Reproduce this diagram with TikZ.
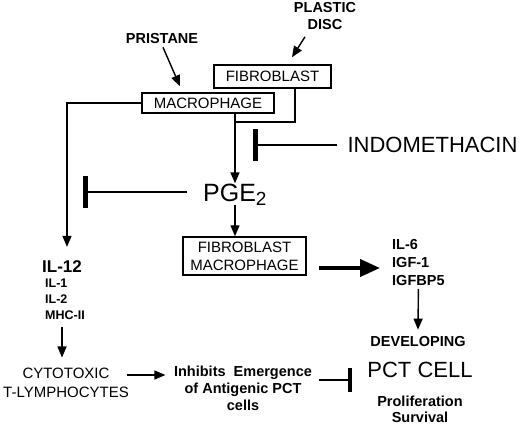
\documentclass[tikz,border=0pt]{standalone}
\usepackage{fontspec}
\setmainfont{Liberation Sans}
\usetikzlibrary{arrows.meta, positioning}

\begin{document}
\begin{tikzpicture}[
    x=1pt, y=-1pt,
    cellbox/.style={rectangle, draw, line width=1.5pt, inner sep=0pt, align=center, font=\fontsize{15}{18}\selectfont},
    plainlabel/.style={inner sep=0pt, align=center, font=\fontsize{15}{19}\selectfont},
    boldlabel/.style={inner sep=0pt, align=center, font=\fontsize{14.5}{17}\selectfont\bfseries},
    smalllabel/.style={inner sep=0pt, align=left, font=\fontsize{12.5}{16}\selectfont\bfseries},
    biglabel/.style={inner sep=0pt, font=\fontsize{22}{26}\selectfont},
    line/.style={line width=1.4pt},
    arrow/.style={-{Triangle[length=11pt, width=9pt]}, line width=1.4pt},
    bigarrow/.style={-{Triangle[length=20pt, width=17pt]}, line width=4pt},
    inhibit/.style={-{Bar[width=32pt, line width=5pt]}, line width=1.4pt},
]
\useasboundingbox (0,0) rectangle (520,426);

% ============ Top: stimuli and cells ============
\node[boldlabel] (pristane) at (162,39) {PRISTANE};
\node[boldlabel] (disc) at (325,16) {PLASTIC\\DISC};
\node[cellbox, minimum width=117pt, minimum height=23pt] (fibro) at (272.5,76.5) {FIBROBLAST};
\node[cellbox, minimum width=132pt, minimum height=20pt] (macro) at (208,103) {MACROPHAGE};

\draw[arrow] ([xshift=1pt, yshift=-3pt]pristane.south) -- ([shift={(-28pt,6pt)}]macro.north);
\draw[arrow] ([shift={(-20pt,-7pt)}]disc.south) -- ([shift={(19.5pt,7pt)}]fibro.north);

% ============ PGE2 and inhibitors ============
\node[biglabel] (indo) at (432.5,145) {INDOMETHACIN};
\node[inner sep=0pt, anchor=base west, font=\fontsize{25}{28}\selectfont] (pge) at (203,201)
    {PGE\raisebox{-4pt}{\fontsize{19}{19}\selectfont 2}};
\coordinate (join) at (235,122);
\coordinate (indobar) at (253,145);
\coordinate (pgebar) at (83,192);

\draw[line] ([xshift=22.5pt]fibro.south) |- (join);
\draw[arrow] (macro.south -| join) -- (join |- pge.north);
\draw[inhibit] ([xshift=-10pt]indo.west) -- (indobar);
\draw[inhibit] ([xshift=-16pt]pgebar -| pge.west) -- (pgebar);

% ============ Right branch ============
\node[cellbox, minimum width=123pt, minimum height=38pt] (fm) at (244.5,256) {FIBROBLAST\\MACROPHAGE};
\node[boldlabel, align=left, anchor=west, font=\fontsize{14.5}{18}\selectfont\bfseries] (ilsix) at (392,262.5) {IL-6\\IGF-1\\IGFBP5};
\node[boldlabel] (dev) at (418,342) {DEVELOPING};
\node[biglabel] (pct) at (420,370) {PCT CELL};
\node[boldlabel, font=\fontsize{14.5}{16}\selectfont\bfseries] (prolif) at (420,409) {Proliferation\\Survival};

\draw[arrow] (join |- pge.south) -- (join |- fm.north);
\draw[bigarrow] ([shift={(12pt,-12pt)}]fm.east) -- ([shift={(-12pt,-5.5pt)}]ilsix.west);
\draw[arrow] ([yshift=-3pt]ilsix.south) -- ([yshift=7pt]dev.north);

% ============ Left branch ============
\node[inner sep=0pt, font=\fontsize{17}{20}\selectfont\bfseries] (ilt) at (62,267) {IL-12};
\node[smalllabel, anchor=west] (ilone) at (45,299) {IL-1\\IL-2\\MHC-II};
\node[plainlabel] (ctl) at (66,382.5) {CYTOTOXIC\\T-LYMPHOCYTES};
\node[boldlabel] (inhib) at (243,388) {Inhibits\ \ Emergence\\of Antigenic PCT\\cells};
\coordinate (pctbar) at (352,380);

\draw[arrow] (macro.west) -| ([shift={(5pt,14pt)}]ilt.north);
\draw[arrow] ([yshift=-7pt]ilone.south -| ilt) -- ([yshift=10pt]ilt |- ctl.north);
\draw[arrow] ([shift={(-2pt,7.5pt)}]ctl.east) -- ([shift={(-8.5pt,13pt)}]inhib.west);
\draw[inhibit, -{Bar[width=24pt, line width=4pt]}] ([shift={(7pt,8pt)}]inhib.east) -- (pctbar);

\end{tikzpicture}
\end{document}
